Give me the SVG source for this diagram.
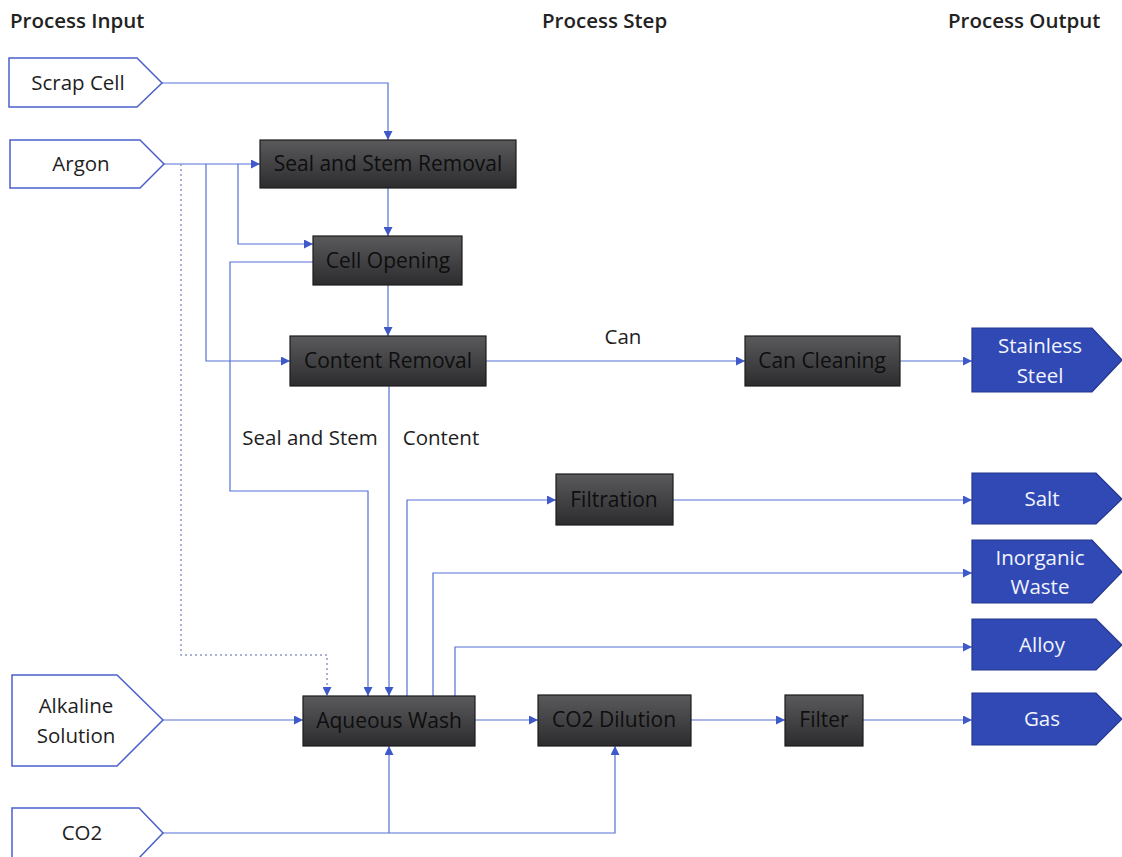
<svg xmlns="http://www.w3.org/2000/svg" width="1122" height="857" viewBox="0 0 1122 857">
  <style>
    .hdr { font-family: "Open Sans", "Liberation Sans", sans-serif; font-size: 20.5px; font-weight: 600; fill: #222; }
    .lbl { font-family: "Open Sans", "Liberation Sans", sans-serif; font-size: 20.5px; fill: #1e1e1e; }
    .in-shape { fill: #ffffff; stroke: #4a5fcc; stroke-width: 1.5; }
    .in-text { font-family: "Open Sans", "Liberation Sans", sans-serif; font-size: 20.5px; fill: #1e1e1e; text-anchor: middle; }
    .step { fill: url(#stepFill); stroke: #1c1c1c; stroke-width: 1.2; }
    .step-text { font-family: "Open Sans", "Liberation Sans", sans-serif; font-size: 21px; fill: #0e0e0e; text-anchor: middle; }
    .out-shape { fill: #3049b4; stroke: #23378e; stroke-width: 1.2; }
    .out-text { font-family: "Open Sans", "Liberation Sans", sans-serif; font-size: 20.5px; fill: #f2f4ff; text-anchor: middle; }
    .conn { fill: none; stroke: #5570d6; stroke-width: 1.2; marker-end: url(#arrow); }
    .dotted { fill: none; stroke: #8f98c4; stroke-width: 1.5; stroke-dasharray: 2 3; marker-end: url(#arrow); }
  </style>
  <defs>
    <linearGradient id="stepFill" x1="0" y1="0" x2="0" y2="1">
      <stop offset="0" stop-color="#5a5a5c"/>
      <stop offset="0.5" stop-color="#434345"/>
      <stop offset="1" stop-color="#2c2c2e"/>
    </linearGradient>
    <marker id="arrow" viewBox="0 0 10 10" refX="10" refY="5" markerWidth="10" markerHeight="9" markerUnits="userSpaceOnUse" orient="auto">
      <path d="M0,0 L10,5 L0,10 z" fill="#3f59c8"/>
    </marker>
  </defs>

  <rect width="1122" height="857" fill="#ffffff"/>

  <!-- column headings -->
  <text class="hdr" x="10" y="28">Process Input</text>
  <text class="hdr" x="542" y="28">Process Step</text>
  <text class="hdr" x="948" y="28">Process Output</text>

  <!-- connectors -->
  <g id="connectors">
    <path class="conn" d="M162,83 H388 V140"/>
    <path class="conn" d="M164,164 H260"/>
    <path class="conn" d="M238,164 V244 H313"/>
    <path class="conn" d="M206,164 V361 H290"/>
    <path class="dotted" d="M181,164 V655 H327 V696"/>
    <path class="conn" d="M388,188 V236"/>
    <path class="conn" d="M388,285 V336"/>
    <path class="conn" d="M313,262 H230 V491 H368 V696"/>
    <path class="conn" d="M389,386 V696"/>
    <path class="conn" d="M486,361 H745"/>
    <path class="conn" d="M900,361 H972"/>
    <path class="conn" d="M407,696 V500 H556"/>
    <path class="conn" d="M673,500 H972"/>
    <path class="conn" d="M433,696 V573 H972"/>
    <path class="conn" d="M455,696 V647 H972"/>
    <path class="conn" d="M163,720 H303"/>
    <path class="conn" d="M475,720 H538"/>
    <path class="conn" d="M691,720 H785"/>
    <path class="conn" d="M863,720 H972"/>
    <path class="conn" d="M163,833 H615 V746"/>
    <path class="conn" d="M389,833 V746"/>
  </g>

  <!-- connector labels -->
  <text class="lbl" x="623" y="344" text-anchor="middle">Can</text>
  <text class="lbl" x="310" y="445" text-anchor="middle">Seal and Stem</text>
  <text class="lbl" x="441" y="445" text-anchor="middle">Content</text>

  <!-- inputs -->
  <g id="in-scrap-cell">
    <path class="in-shape" d="M9,58 H137 L162,83 L137,107 H9 z"/>
    <text class="in-text" x="78" y="90">Scrap Cell</text>
  </g>
  <g id="in-argon">
    <path class="in-shape" d="M10,140 H140 L164,164 L140,188 H10 z"/>
    <text class="in-text" x="81" y="171">Argon</text>
  </g>
  <g id="in-alkaline">
    <path class="in-shape" d="M12,675 H117 L163,720 L117,766 H12 z"/>
    <text class="in-text" x="76" y="713">Alkaline</text>
    <text class="in-text" x="76" y="743">Solution</text>
  </g>
  <g id="in-co2">
    <path class="in-shape" d="M12,808 H139 L163,833 L139,858 H12 z"/>
    <text class="in-text" x="82" y="840">CO2</text>
  </g>

  <!-- process steps -->
  <g id="step-seal-stem">
    <rect class="step" x="260" y="140" width="256" height="48"/>
    <text class="step-text" x="388" y="171">Seal and Stem Removal</text>
  </g>
  <g id="step-cell-opening">
    <rect class="step" x="313" y="236" width="149" height="49"/>
    <text class="step-text" x="388" y="268">Cell Opening</text>
  </g>
  <g id="step-content-removal">
    <rect class="step" x="290" y="336" width="196" height="50"/>
    <text class="step-text" x="388" y="368">Content Removal</text>
  </g>
  <g id="step-can-cleaning">
    <rect class="step" x="745" y="336" width="155" height="50"/>
    <text class="step-text" x="822" y="368">Can Cleaning</text>
  </g>
  <g id="step-filtration">
    <rect class="step" x="556" y="474" width="117" height="51"/>
    <text class="step-text" x="614" y="507">Filtration</text>
  </g>
  <g id="step-aqueous-wash">
    <rect class="step" x="303" y="696" width="172" height="50"/>
    <text class="step-text" x="389" y="728">Aqueous Wash</text>
  </g>
  <g id="step-co2-dilution">
    <rect class="step" x="538" y="695" width="153" height="51"/>
    <text class="step-text" x="614" y="727">CO2 Dilution</text>
  </g>
  <g id="step-filter">
    <rect class="step" x="785" y="695" width="78" height="51"/>
    <text class="step-text" x="824" y="727">Filter</text>
  </g>

  <!-- outputs -->
  <g id="out-stainless-steel">
    <path class="out-shape" d="M972,328 H1092 L1122,360 L1092,392 H972 z"/>
    <text class="out-text" x="1040" y="353">Stainless</text>
    <text class="out-text" x="1040" y="383">Steel</text>
  </g>
  <g id="out-salt">
    <path class="out-shape" d="M972,473 H1096 L1122,499 L1096,524 H972 z"/>
    <text class="out-text" x="1042" y="506">Salt</text>
  </g>
  <g id="out-inorganic-waste">
    <path class="out-shape" d="M972,540 H1092 L1122,572 L1092,603 H972 z"/>
    <text class="out-text" x="1040" y="565">Inorganic</text>
    <text class="out-text" x="1040" y="594">Waste</text>
  </g>
  <g id="out-alloy">
    <path class="out-shape" d="M972,619 H1096 L1122,645 L1096,670 H972 z"/>
    <text class="out-text" x="1042" y="652">Alloy</text>
  </g>
  <g id="out-gas">
    <path class="out-shape" d="M972,693 H1096 L1122,719 L1096,745 H972 z"/>
    <text class="out-text" x="1042" y="726">Gas</text>
  </g>
</svg>
